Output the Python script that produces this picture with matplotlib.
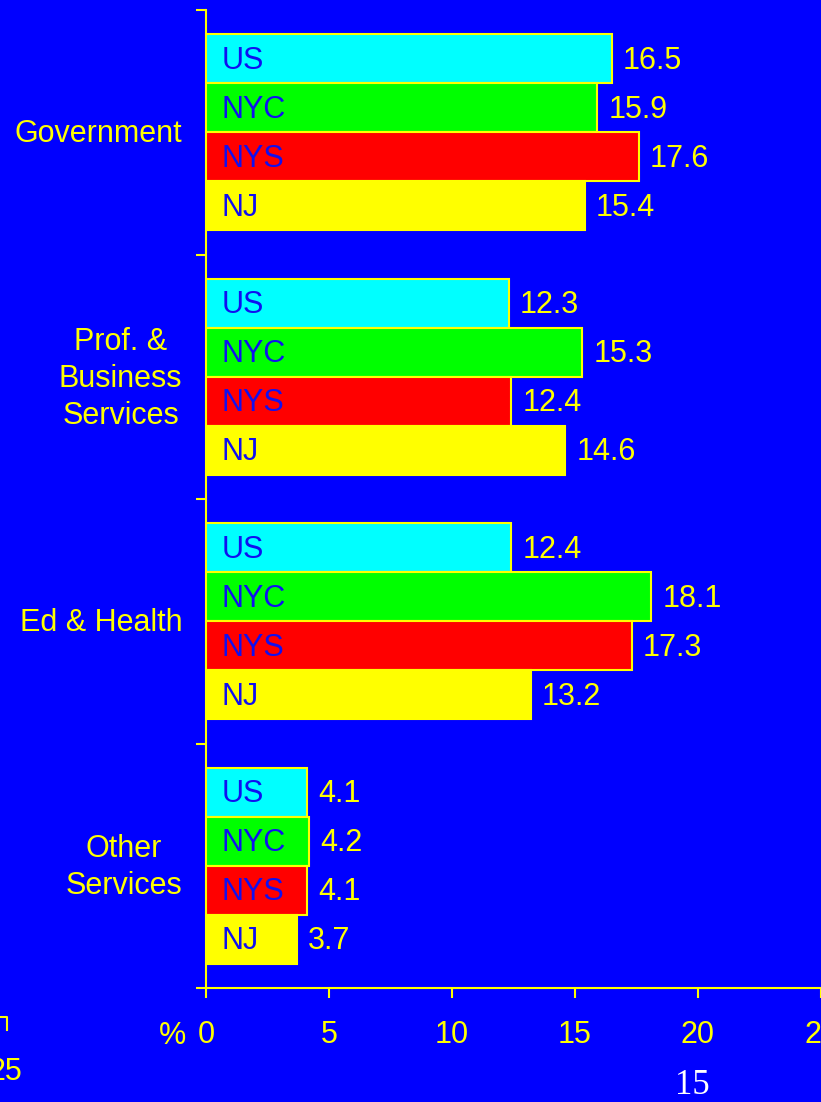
import matplotlib.pyplot as plt
from matplotlib.lines import Line2D

categories = ['Government', 'Prof. &\nBusiness\nServices', 'Ed & Health', 'Other\nServices']
series = ['US', 'NYC', 'NYS', 'NJ']
values = {
    'US':  [16.5, 12.3, 12.4, 4.1],
    'NYC': [15.9, 15.3, 18.1, 4.2],
    'NYS': [17.6, 12.4, 17.3, 4.1],
    'NJ':  [15.4, 14.6, 13.2, 3.7],
}
colors = ['#00FFFF', '#00FF00', '#FF0000', '#FFFF00']
xticks = [0, 5, 10, 15, 20, 25]

BG = '#0000FF'
YEL = '#FFFF00'
plt.rcParams['font.family'] = ['Liberation Sans', 'DejaVu Sans']

fig = plt.figure(figsize=(8.21, 11.02), dpi=100, facecolor=BG)
ax = fig.add_axes([206 / 821, 1 - 988 / 1102, 1 - 206 / 821, (988 - 10) / 1102])
ax.set_facecolor(BG)

bar_h = 0.2
for i, name in enumerate(series):
    ys = [c + (i - 1.5) * bar_h for c in range(len(categories))]
    ax.barh(ys, values[name], height=bar_h, color=colors[i],
            edgecolor=YEL, linewidth=1.5, zorder=3)
    for y, v in zip(ys, values[name]):
        ax.annotate(name, (0, y), xytext=(11.5, -1.5), textcoords='offset points',
                    ha='left', va='center', fontsize=22, color='#1010F0', zorder=4)
        ax.annotate(f'{v:.1f}', (v, y), xytext=(8, -1.5), textcoords='offset points',
                    ha='left', va='center', fontsize=22, color=YEL, zorder=4)

ax.set_xlim(0, 25)
ax.set_ylim(len(categories) - 0.5, -0.5)

# category labels, ticks sit on group boundaries
ax.set_yticks([b - 0.5 for b in range(len(categories) + 1)])
ax.set_yticklabels([])
for c, cat in enumerate(categories):
    ax.annotate(cat, (0, c), xycoords=('axes fraction', 'data'), xytext=(-17, -1.5),
                textcoords='offset points', ha='right', va='center',
                multialignment='center', linespacing=1.3, fontsize=22, color=YEL)

ax.set_xticks(xticks)
ax.set_xticklabels([str(t) for t in xticks], fontsize=22, color=YEL)
ax.tick_params(axis='both', colors=YEL, length=7, width=1.5, direction='out')
ax.tick_params(axis='x', pad=16)
for s in ['top', 'right']:
    ax.spines[s].set_visible(False)
for s in ['left', 'bottom']:
    ax.spines[s].set_color(YEL)
    ax.spines[s].set_linewidth(1.5)

fig.text(172 / 821, 1 - 1036 / 1102, '%', fontsize=22, color=YEL, ha='center', va='center')

# leftovers from the neighbouring slide
fig.text(22 / 821, 1 - 1072 / 1102, '25', fontsize=22, color=YEL, ha='right', va='center')
fig.add_artist(Line2D([0, 7 / 821, 7 / 821], [1 - 1017 / 1102, 1 - 1017 / 1102, 1 - 1030 / 1102],
                      color=YEL, lw=1.5, transform=fig.transFigure))
fig.text(692 / 821, 1 - 1085 / 1102, '15', fontsize=25, color='white', ha='center', va='center',
         family=['Liberation Serif', 'DejaVu Serif'])

fig.savefig('out.png', dpi=100, facecolor=BG)
